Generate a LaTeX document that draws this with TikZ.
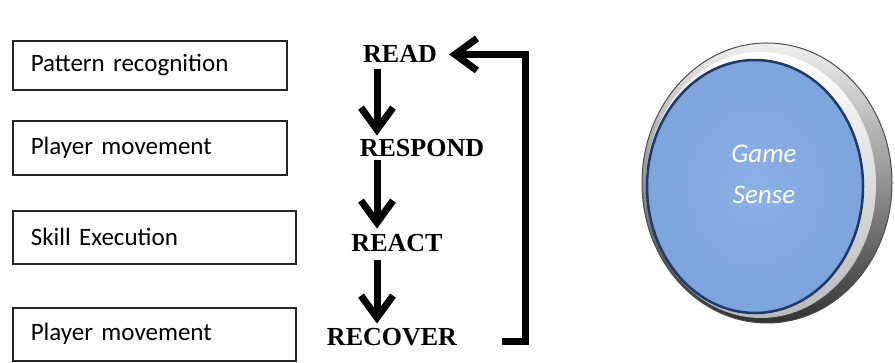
\documentclass[tikz,border=0pt]{standalone}
\usepackage{fontspec}
\setmainfont{Liberation Serif}
\newfontfamily\boxfont{Carlito}
\usetikzlibrary{arrows.meta}
\definecolor{faceblue}{HTML}{7DA4DC}
\definecolor{faceblueLight}{HTML}{8BB0E4}
\definecolor{facering}{HTML}{1E3A68}
\begin{document}
\begin{tikzpicture}[x=1pt,y=-1pt,
  labelbox/.style={draw=black!85, line width=1.6pt, anchor=north west,
    inner xsep=18pt, inner ysep=0pt, align=left,
    font=\boxfont\fontsize{25}{30}\selectfont},
  stage/.style={anchor=base, inner sep=0pt,
    font=\bfseries\fontsize{26}{30}\selectfont},
  flow/.style={line width=7pt, line join=miter,
    -{Straight Barb[length=22pt,width=32pt]}},
  gametext/.style={align=center, text=white, inner sep=0pt,
    font=\boxfont\itshape\fontsize{27}{41}\selectfont}]

\useasboundingbox (0,0) rectangle (895,363);

% skill boxes on the left
\node[labelbox, text width=238pt, minimum height=49pt] (b1) at (12,40) {Pattern recognition};
\node[labelbox, text width=238pt, minimum height=54pt] (b2) at (12,120) {Player movement};
\node[labelbox, text width=247pt, minimum height=53pt] (b3) at (12,210) {Skill Execution};
\node[labelbox, text width=247pt, minimum height=53pt] (b4) at (12,307) {Player movement};

% the four stages
\node[stage] (read)    at (400,63)  {READ};
\node[stage] (respond) at (422,157) {RESPOND};
\node[stage] (react)   at (397,252) {REACT};
\node[stage] (recover) at (392,346) {RECOVER};

% vertical axis of the stage arrows and the return path
\coordinate (axis) at (377,0);
\coordinate (rt) at (525,0);
\coordinate (loopstart) at (502,342);

\draw[flow] ([yshift=-6pt]read.south -| axis) -- ([yshift=4pt]respond.north -| axis);
\draw[flow] ([yshift=-3pt]respond.south -| axis) -- ([yshift=6pt]react.north -| axis);
\draw[flow] ([yshift=-8pt]react.south -| axis) -- ([yshift=5pt]recover.north -| axis);

% return loop from RECOVER back to READ
\draw[flow] (loopstart) -- (loopstart -| rt) -- (rt |- read.east) -- ([xshift=12pt]read.east);

% Game Sense button
\shade[shading=axis, shading angle=45, top color=gray!12, bottom color=black!80]
  (767,183) ellipse [x radius=125, y radius=140];
\draw[black!70, line width=1pt] (767,183) ellipse [x radius=125, y radius=140];
\shade[shading=axis, shading angle=45, top color=white, bottom color=gray!55]
  (761,185) ellipse [x radius=115, y radius=133];
\shade[inner color=faceblueLight, outer color=faceblue]
  (755,186.5) ellipse [x radius=108, y radius=126.5];
\draw[facering, line width=2.5pt] (755,186.5) ellipse [x radius=108, y radius=126.5];
\node[gametext, anchor=base] (game) at (764,163) {Game};
\node[gametext, anchor=base] (sense) at (764,204) {Sense};
\end{tikzpicture}
\end{document}
